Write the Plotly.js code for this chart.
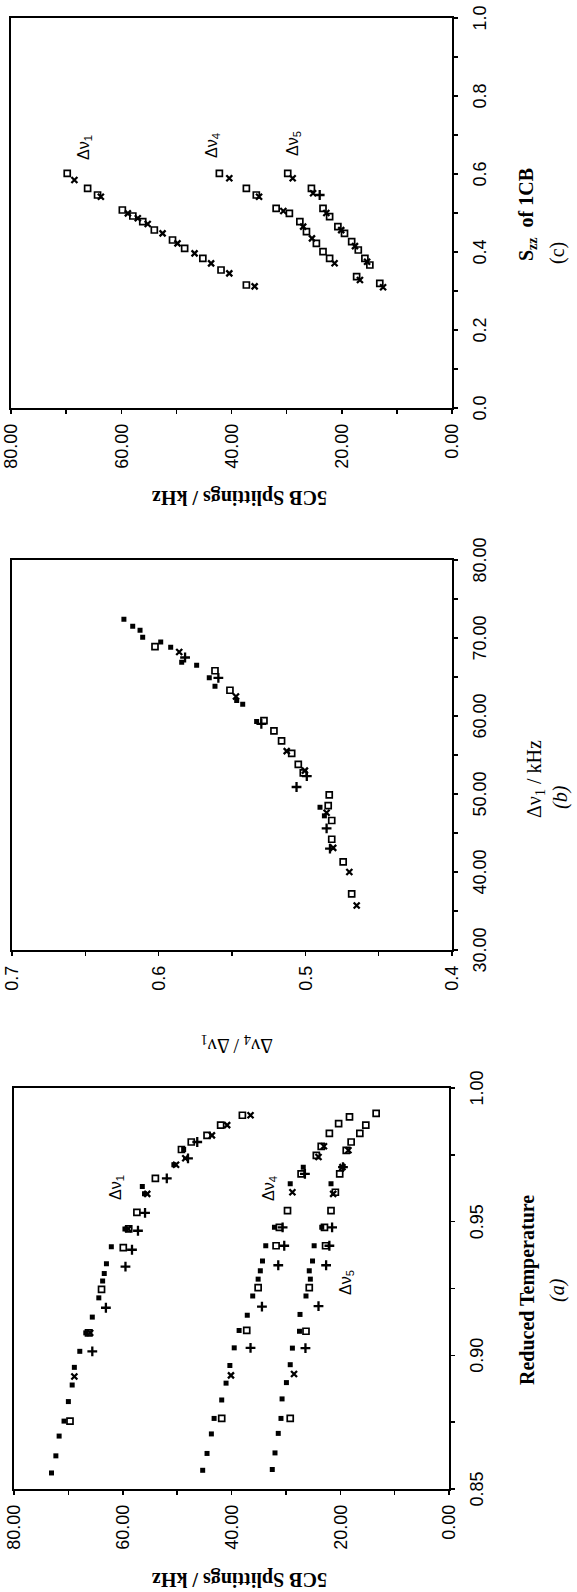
<!DOCTYPE html>
<html><head><meta charset="utf-8">
<script src="https://cdn.plot.ly/plotly-3.0.1.min.js"></script>
<style>
html,body{margin:0;padding:0;background:#fff;overflow:hidden;width:577px;height:1592px;}
#plot{position:absolute;left:0;top:0;width:1592px;height:577px;transform-origin:0 0;transform:translateY(1592px) rotate(-90deg);}
</style></head><body><div id="plot"></div>
<script>
// ---------- Panel (a): 5CB splittings vs reduced temperature ----------
const a1FilledT = [0.856,0.8624,0.8698,0.8754,0.8827,0.8889,0.8955,0.9015,0.9084,0.9143,0.9215,0.9278,0.9306,0.9343,0.9406,0.9473,0.9604,0.9632,0.9713,0.9770];
const a1FilledS = [73.1,72.3,71.7,70.8,70.0,69.3,68.9,67.9,66.8,65.6,64.4,63.7,63.4,63.0,62.1,59.6,56.0,56.4,50.6,48.8];
const a1OpenT = [0.8754,0.9084,0.9247,0.9403,0.9473,0.9535,0.9662,0.9770,0.9798,0.9823,0.9861,0.9898];
const a1OpenS = [69.7,66.3,63.9,59.9,58.9,57.4,54.0,49.2,47.4,44.5,42.0,38.0];
const a1CrossT = [0.8921,0.9084,0.9473,0.9604,0.9713,0.9737,0.9823,0.9861,0.9898];
const a1CrossS = [68.9,66.0,59.0,55.5,50.2,48.5,43.6,40.8,36.5];
const a1PlusT = [0.9015,0.9178,0.9332,0.9395,0.9466,0.9533,0.9662,0.9737,0.9798];
const a1PlusS = [65.6,63.1,59.5,58.3,57.2,55.9,51.9,48.0,46.3];

const a4FilledT = [0.857,0.8633,0.8706,0.8764,0.8833,0.8896,0.8962,0.9028,0.9093,0.915,0.9222,0.9285,0.9316,0.9353,0.941,0.9479,0.9642,0.9704];
const a4FilledS = [45.3,44.5,43.7,43.2,41.8,41.0,40.3,39.5,38.6,37.1,36.1,35.1,34.7,34.3,33.7,32.1,29.2,26.8];
const a4OpenT = [0.8764,0.9093,0.9253,0.941,0.9479,0.9541,0.9679,0.9748,0.9782,0.983,0.9867,0.9892];
const a4OpenS = [41.8,37.2,35.1,31.8,31.2,29.7,27.2,24.4,23.5,22.0,20.3,18.3];
const a4CrossT = [0.8925,0.961,0.9742,0.9782];
const a4CrossS = [40.1,28.8,24.0,23.0];
const a4PlusT = [0.9028,0.9182,0.9337,0.941,0.9479,0.9679];
const a4PlusS = [36.5,34.4,31.4,30.3,30.6,26.5];

const a5FilledT = [0.8573,0.8635,0.8708,0.8764,0.8837,0.8898,0.8965,0.9027,0.909,0.9153,0.9222,0.9285,0.9316,0.9353,0.941,0.9479,0.9642];
const a5FilledS = [32.5,32.0,31.4,30.9,30.7,29.9,29.2,28.8,27.5,27.4,26.3,25.5,25.7,25.1,24.8,23.4,21.7];
const a5OpenT = [0.8764,0.909,0.9253,0.941,0.9479,0.9541,0.961,0.9679,0.9767,0.9798,0.983,0.9861,0.9905];
const a5OpenS = [29.2,26.3,25.7,22.7,22.9,21.7,20.9,20.1,18.9,18.0,16.4,15.3,13.4];
const a5CrossT = [0.893,0.9604,0.9704,0.9767];
const a5CrossS = [28.5,21.3,19.6,18.5];
const a5PlusT = [0.9027,0.9184,0.9337,0.941,0.9479,0.9704];
const a5PlusS = [26.4,24.0,22.6,22.0,21.5,19.5];

// ---------- Panel (b): Δν4/Δν1 vs Δν1 ----------
const bFilledV = [72.4,71.5,71.0,70.1,69.5,68.8,66.9,66.5,64.9,63.8,62.0,61.5,59.3,48.3,47.2];
const bFilledR = [0.6237,0.6177,0.6127,0.6109,0.5986,0.5918,0.5843,0.5741,0.5655,0.5616,0.5468,0.5427,0.5332,0.4900,0.4870];
const bOpenV = [68.9,65.8,63.3,59.4,58.1,56.8,55.2,53.8,52.7,49.9,48.5,46.6,44.2,41.3,37.2];
const bOpenR = [0.6025,0.5616,0.5514,0.5282,0.5214,0.5162,0.5093,0.5048,0.5014,0.4837,0.4844,0.482,0.482,0.4742,0.4684];
const bCrossV = [68.2,62.5,55.5,53.0,47.6,43.1,40.0,35.7];
const bCrossR = [0.586,0.5473,0.5127,0.5003,0.4855,0.481,0.470,0.465];
const bPlusV = [67.5,64.9,59.0,52.3,50.9,45.6,43.0];
const bPlusR = [0.582,0.5593,0.530,0.499,0.506,0.4855,0.4832];

// ---------- Panel (c): 5CB splittings vs Szz of 1CB ----------
const c1OpenSzz = [0.6018,0.5633,0.5462,0.5077,0.4923,0.4778,0.4564,0.4308,0.4094,0.3838,0.3538,0.3154];
const c1OpenS = [69.8,66.1,64.3,59.8,57.9,56.1,54.0,50.7,48.5,45.2,41.9,37.3];
const c1CrossSzz = [0.5846,0.5418,0.4991,0.4864,0.4718,0.4479,0.4222,0.3966,0.3709,0.3453,0.3120];
const c1CrossS = [68.5,63.7,58.8,57.0,55.2,52.5,49.8,46.7,43.7,40.4,35.8];
const c4OpenSzz = [0.6018,0.5633,0.5462,0.512,0.4992,0.4777,0.4521,0.4223,0.4008,0.3838,0.3367];
const c4OpenS = [42.2,37.3,35.5,31.9,29.5,27.6,26.4,24.6,23.4,22.2,17.3];
const c4CrossSzz = [0.589,0.5418,0.505,0.465,0.435,0.371,0.3282];
const c4CrossS = [40.4,35.0,30.6,27.0,25.4,21.3,16.7];
const c5OpenSzz = [0.6018,0.5633,0.512,0.4905,0.4649,0.4479,0.4264,0.4051,0.3838,0.3667,0.3197];
const c5OpenS = [29.8,25.5,23.4,22.2,20.7,19.5,18.2,17.0,15.8,14.9,13.1];
const c5CrossSzz = [0.589,0.5505,0.500,0.456,0.415,0.375,0.3095];
const c5CrossS = [28.9,25.2,22.8,20.1,17.6,15.4,12.5];
const c5PlusSzz = [0.5462];
const c5PlusS = [24.0];

// ---------- tick / title texts ----------
const titleA_x = '<b>Reduced Temperature</b>';
const titleA_y = '<b>5CB Splittings / kHz</b>';
const titleB_x = 'Δν<sub>1</sub> / kHz';
const titleB_y = 'Δν<sub>4</sub> / Δν<sub>1</sub>';
const titleC_x = '<b>S<sub>zz</sub>  of 1CB</b>';
const titleC_y = '<b>5CB Splittings / kHz</b>';
const panelTags = ['(a)', '(b)', '(c)'];

const BLACK = '#000';
const styles = {
  filled: {symbol: 'square', size: 5, color: BLACK, line: {width: 0}},
  open: {symbol: 'square-open', size: 6, color: BLACK, line: {width: 1.7, color: BLACK}},
  cross: {symbol: 'x-thin-open', size: 6, color: BLACK, line: {width: 2.3, color: BLACK}},
  plus: {symbol: 'cross-thin-open', size: 7, color: BLACK, line: {width: 2.3, color: BLACK}}
};
function tr(x, y, style, xa, ya) {
  return {type: 'scatter', mode: 'markers', x: x, y: y, xaxis: xa, yaxis: ya,
          marker: styles[style], hoverinfo: 'skip', showlegend: false};
}
const cat = (...arr) => [].concat(...arr);

const data = [
  tr(cat(a1FilledT, a4FilledT, a5FilledT), cat(a1FilledS, a4FilledS, a5FilledS), 'filled', 'x', 'y'),
  tr(cat(a1OpenT, a4OpenT, a5OpenT), cat(a1OpenS, a4OpenS, a5OpenS), 'open', 'x', 'y'),
  tr(cat(a1CrossT, a4CrossT, a5CrossT), cat(a1CrossS, a4CrossS, a5CrossS), 'cross', 'x', 'y'),
  tr(cat(a1PlusT, a4PlusT, a5PlusT), cat(a1PlusS, a4PlusS, a5PlusS), 'plus', 'x', 'y'),
  tr(bFilledV, bFilledR, 'filled', 'x2', 'y2'),
  tr(bOpenV, bOpenR, 'open', 'x2', 'y2'),
  tr(bCrossV, bCrossR, 'cross', 'x2', 'y2'),
  tr(bPlusV, bPlusR, 'plus', 'x2', 'y2'),
  tr(cat(c1OpenSzz, c4OpenSzz, c5OpenSzz), cat(c1OpenS, c4OpenS, c5OpenS), 'open', 'x3', 'y3'),
  tr(cat(c1CrossSzz, c4CrossSzz, c5CrossSzz), cat(c1CrossS, c4CrossS, c5CrossS), 'cross', 'x3', 'y3'),
  tr(c5PlusSzz, c5PlusS, 'plus', 'x3', 'y3')
];

const tickFont = {family: 'Liberation Sans, Arial, sans-serif', size: 18, color: BLACK};
function ax(domain, range, dtick, fmt, minor, anchor) {
  return {domain: domain, range: range, dtick: dtick, tick0: range[0], tickformat: fmt,
    showline: true, mirror: true, linecolor: BLACK, linewidth: 2.2,
    ticks: 'outside', ticklen: 4, tickwidth: 1.5, tickcolor: BLACK,
    minor: {dtick: minor, ticks: 'outside', ticklen: 4, tickwidth: 1.5, tickcolor: BLACK, showgrid: false},
    showgrid: false, zeroline: false, tickfont: tickFont, anchor: anchor, fixedrange: true,
    ticklabelstandoff: 6};
}
const W = 1592, H = 577;
const px = v => v / W, py = v => 1 - v / H;

const serif = 'Liberation Serif, Times New Roman, serif';
const sans = 'Liberation Sans, Arial, sans-serif';
function note(text, x, y, opts) {
  return Object.assign({text: text, x: x, y: y, xref: 'paper', yref: 'paper', showarrow: false,
    xanchor: 'center', yanchor: 'middle', font: {family: serif, size: 20, color: BLACK}}, opts || {});
}
function dlabel(text, x, y, xr, yr) {
  return {text: text, x: x, y: y, xref: xr, yref: yr, showarrow: false, xanchor: 'center', yanchor: 'middle',
    font: {family: sans, size: 16, color: BLACK}};
}

const layout = {
  width: W, height: H, margin: {l: 0, r: 0, t: 0, b: 0},
  paper_bgcolor: '#fff', plot_bgcolor: '#fff', showlegend: false,
  xaxis: ax([px(103), px(504)], [0.85, 1.0], 0.05, '.2f', 0.025, 'y'),
  yaxis: ax([py(449), py(14)], [0, 80], 20, '.2f', 10, 'x'),
  xaxis2: ax([px(642), px(1032)], [30, 80], 10, '.2f', 5, 'y2'),
  yaxis2: ax([py(452), py(12)], [0.4, 0.7], 0.1, '.1f', 0.05, 'x2'),
  xaxis3: ax([px(1184), px(1574)], [0, 1], 0.2, '.1f', 0.1, 'y3'),
  yaxis3: ax([py(452), py(11)], [0, 80], 20, '.2f', 10, 'x3'),
  annotations: [
    note(titleA_x, px(302), py(527)),
    note(panelTags[0], px(302), py(557), {font: {family: serif, size: 20, color: BLACK, style: 'italic'}}),
    note(titleA_y, px(12), py(240), {textangle: -90}),
    note(titleB_x, px(813), py(535), {font: {family: serif, size: 20, color: BLACK}}),
    note(panelTags[1], px(795), py(560), {font: {family: serif, size: 20, color: BLACK, style: 'italic'}}),
    note(titleB_y, px(547), py(237), {textangle: -90}),
    note(titleC_x, px(1377), py(527)),
    note(panelTags[2], px(1339), py(557), {font: {family: serif, size: 20, color: BLACK}}),
    note(titleC_y, px(1094), py(240), {textangle: -90}),
    dlabel('Δν<sub>1</sub>', 0.9628, 61.2, 'x', 'y'),
    dlabel('Δν<sub>4</sub>', 0.9624, 33.1, 'x', 'y'),
    dlabel('Δν<sub>5</sub>', 0.9271, 18.9, 'x', 'y'),
    dlabel('Δν<sub>1</sub>', 0.667, 66.7, 'x3', 'y3'),
    dlabel('Δν<sub>4</sub>', 0.672, 43.5, 'x3', 'y3'),
    dlabel('Δν<sub>5</sub>', 0.679, 28.8, 'x3', 'y3')
  ]
};
Plotly.newPlot('plot', data, layout, {staticPlot: true, displayModeBar: false});
</script></body></html>
